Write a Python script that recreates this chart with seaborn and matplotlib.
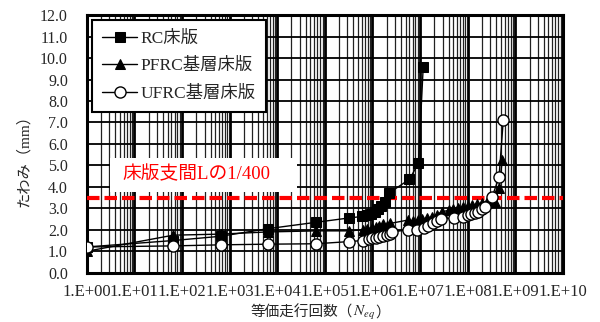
import numpy as np
import pandas as pd
import matplotlib
matplotlib.use("Agg")
import matplotlib.pyplot as plt
import matplotlib.ticker as mticker
from matplotlib.patches import Rectangle
from matplotlib.offsetbox import TextArea, HPacker, AnnotationBbox
import seaborn as sns

# ------------------------------------------------------------------
# data (equivalent passes N_eq vs. deflection in mm)
# ------------------------------------------------------------------
RC_N = [1, 66, 660, 6.3e3, 6.6e4, 3.2e5, 6.0e5, 7.6e5, 9.3e5, 1.12e6,
        1.32e6, 1.55e6, 1.82e6, 2.19e6, 6.0e6, 9.3e6, 1.17e7]
RC_Y = [1.2, 1.5, 1.7, 2.05, 2.35, 2.55, 2.62, 2.68, 2.75, 2.85,
        2.95, 3.1, 3.3, 3.7, 4.35, 5.1, 9.6]

PFRC_N = [1, 66, 660, 6.3e3, 6.6e4, 3.2e5, 6.3e5, 7.9e5, 1.0e6, 1.2e6,
          1.41e6, 1.66e6, 2.0e6, 2.4e6, 5.5e6, 7.1e6, 8.9e6, 1.12e7,
          1.41e7, 1.78e7, 2.24e7, 2.95e7, 3.98e7, 5.0e7, 6.3e7, 7.9e7,
          1.0e8, 1.26e8, 1.58e8, 2.0e8, 2.5e8, 3.16e8, 3.8e8, 4.57e8, 5.37e8]
PFRC_Y = [1.0, 1.75, 1.8, 1.9, 1.95, 1.95, 2.0, 2.05, 2.1, 2.15,
          2.2, 2.25, 2.2, 2.3, 2.45, 2.4, 2.45, 2.5, 2.55, 2.6,
          2.7, 2.85, 2.9, 2.95, 3.0, 3.05, 3.1, 3.15, 3.2, 3.25,
          3.3, 3.3, 3.3, 3.95, 5.25]

UFRC_N = [1, 66, 660, 6.3e3, 6.6e4, 3.2e5, 6.3e5, 8.3e5, 1.0e6, 1.2e6,
          1.41e6, 1.66e6, 2.0e6, 2.4e6, 2.63e6, 5.5e6, 8.5e6, 1.2e7,
          1.51e7, 1.9e7, 2.29e7, 2.75e7, 5.25e7, 7.9e7, 1.0e8, 1.2e8,
          1.41e8, 1.66e8, 2.0e8, 2.29e8, 3.3e8, 4.57e8, 5.62e8]
UFRC_Y = [1.2, 1.25, 1.3, 1.33, 1.35, 1.45, 1.5, 1.55, 1.6, 1.62,
          1.65, 1.7, 1.75, 1.8, 1.9, 2.0, 2.0, 2.1, 2.2, 2.3,
          2.4, 2.5, 2.55, 2.6, 2.7, 2.75, 2.8, 2.85, 2.95, 3.05,
          3.55, 4.45, 7.1]

LIMIT_Y = 3.5
LIMIT_TEXT = "床版支間Lの1/400"
SERIES_NAMES = ["RC床版", "PFRC基層床版", "UFRC基層床版"]
X_TICKS = [1e0, 1e1, 1e2, 1e3, 1e4, 1e5, 1e6, 1e7, 1e8, 1e9, 1e10]

# ------------------------------------------------------------------
# style
# ------------------------------------------------------------------
sns.set_theme(style="whitegrid", rc={
    "axes.grid": True,
    "grid.color": "black",
    "xtick.major.size": 0, "xtick.minor.size": 0,
    "ytick.major.size": 0, "ytick.minor.size": 0,
})
FAMILY = ["Liberation Serif", "Noto Sans CJK JP", "DejaVu Sans"]
plt.rcParams["font.family"] = FAMILY
plt.rcParams["mathtext.fontset"] = "stix"

fig = plt.figure(figsize=(6.0, 3.22), dpi=100)
ax = fig.add_axes([0.1445, 0.153, 0.7935, 0.800])

marker_kw = [
    dict(marker="s", markersize=7, markerfacecolor="black", markeredgecolor="black"),
    dict(marker="^", markersize=7.5, markerfacecolor="black", markeredgecolor="black"),
    dict(marker="o", markersize=8, markerfacecolor="white", markeredgecolor="black",
         markeredgewidth=1.0),
]
for (xs, ys), name, kw in zip([(RC_N, RC_Y), (PFRC_N, PFRC_Y), (UFRC_N, UFRC_Y)],
                              SERIES_NAMES, marker_kw):
    df = pd.DataFrame({"N": xs, "y": ys})
    sns.lineplot(data=df, x="N", y="y", ax=ax, color="black", linewidth=1.0,
                 label=name, zorder=4, **kw)

ax.set_xscale("log")
ax.set_xlim(1, 1e10)
ax.set_ylim(0, 12)

# ticks and grid
ax.xaxis.set_major_locator(mticker.FixedLocator(X_TICKS))
ax.xaxis.set_minor_locator(mticker.LogLocator(base=10, subs=np.arange(2, 10), numticks=20))
ax.xaxis.set_major_formatter(mticker.FuncFormatter(lambda v, p: f"1.E+{int(round(np.log10(v))):02d}"))
ax.xaxis.set_minor_formatter(mticker.NullFormatter())
ax.yaxis.set_major_locator(mticker.MultipleLocator(1.0))
ax.yaxis.set_major_formatter(mticker.FormatStrFormatter("%.1f"))
ax.tick_params(axis="y", pad=13.5, labelsize=11.5)
ax.tick_params(axis="x", pad=8, labelsize=12)
ax.grid(True, which="major", axis="x", color="black", linewidth=2.0)
ax.grid(True, which="minor", axis="x", color="#222222", linewidth=0.9)
ax.grid(True, which="major", axis="y", color="black", linewidth=1.3)
ax.set_axisbelow(True)
for s in ax.spines.values():
    s.set_color("black")
    s.set_linewidth(2.2)

# 1/400 limit line and label
ax.axhline(LIMIT_Y, color="#ff0000", linewidth=3.0, dashes=(3, 1.2), zorder=3)
ax.add_patch(Rectangle((0.049, 0.313), 0.3925, 0.132, transform=ax.transAxes,
                       facecolor="white", edgecolor="none", zorder=2))
ax.text(5.5, 4.57, LIMIT_TEXT, color="#ff0000", fontsize=13.5, va="center",
        ha="left", zorder=3)

# legend
leg = ax.legend(loc="upper left", bbox_to_anchor=(0.011, 0.98), borderaxespad=0,
                fontsize=12.5, frameon=True, fancybox=False, framealpha=1,
                edgecolor="black", handlelength=2.0, handletextpad=0.2,
                labelspacing=0.65, borderpad=0.6)
leg.get_frame().set_linewidth(1.5)
leg.set_zorder(6)

# axis labels
ax.set_xlabel("")
ax.set_ylabel("たわみ（mm）", fontsize=11)
ax.yaxis.set_label_coords(-0.118, 0.45)

parts = [TextArea("等価走行回数（", textprops=dict(fontsize=10.5, family=FAMILY)),
         TextArea(r"$N_{eq}$", textprops=dict(fontsize=11)),
         TextArea("）", textprops=dict(fontsize=10.5, family=FAMILY))]
box = HPacker(children=parts, align="baseline", pad=0, sep=0)
ab = AnnotationBbox(box, (0.49, -0.158), xycoords="axes fraction", frameon=False,
                    box_alignment=(0.5, 0.5), annotation_clip=False)
ax.add_artist(ab)

fig.savefig("out.png", dpi=100)
